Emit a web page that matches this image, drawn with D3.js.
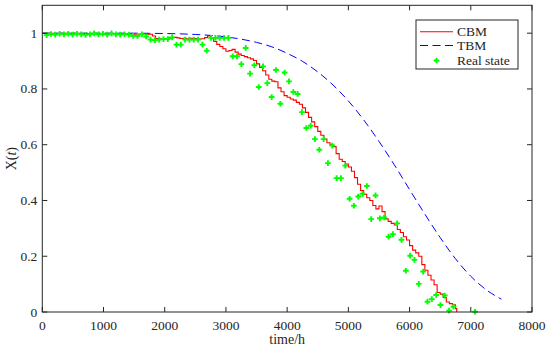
<!DOCTYPE html>
<html>
<head>
<meta charset="utf-8">
<script src="https://cdn.jsdelivr.net/npm/d3@7"></script>
<style>
  body { margin: 0; background: #fff; }
</style>
</head>
<body>
<div class="chart"></div>
<script>
// CBM estimate (red line)
const cbmT = [0, 100, 200, 300, 400, 500, 600, 700, 800, 900, 1000, 1100, 1200, 1300, 1400, 1500, 1600, 1700,
  1800, 1850, 1900, 1950, 2000, 2050, 2100, 2150, 2200, 2250, 2300, 2350, 2400, 2450, 2500, 2550, 2600, 2650,
  2700, 2750, 2800, 2850, 2900, 2950, 3000, 3050, 3100, 3150, 3200, 3250, 3300, 3350, 3400, 3450, 3500, 3550,
  3600, 3650, 3700, 3750, 3800, 3850, 3900, 3950, 4000, 4050, 4100, 4150, 4200, 4250, 4300, 4350, 4400, 4450,
  4500, 4550, 4600, 4650, 4700, 4750, 4800, 4850, 4900, 4950, 5000, 5050, 5100, 5150, 5200, 5250, 5300, 5350,
  5400, 5450, 5500, 5550, 5600, 5650, 5700, 5750, 5800, 5850, 5900, 5950, 6000, 6050, 6100, 6150, 6200, 6250,
  6300, 6350, 6400, 6450, 6500, 6550, 6600, 6650, 6700, 6750, 6770];
const cbmX = [1, 1, 0.999, 1, 0.999, 1, 0.999, 0.999, 0.998, 0.999, 0.998, 0.998, 0.997, 0.998, 0.997, 0.996, 0.997, 0.996,
  0.99, 0.981, 0.98, 0.978, 0.981, 0.983, 0.984, 0.985, 0.983, 0.981, 0.982, 0.98, 0.982, 0.981, 0.98, 0.979, 0.98, 0.984,
  0.99, 0.982, 0.97, 0.96, 0.952, 0.944, 0.935, 0.938, 0.942, 0.932, 0.925, 0.92, 0.916, 0.912, 0.908, 0.902, 0.89, 0.877,
  0.865, 0.85, 0.835, 0.828, 0.826, 0.804, 0.79, 0.776, 0.77, 0.764, 0.76, 0.752, 0.745, 0.732, 0.716, 0.698, 0.682, 0.665,
  0.648, 0.634, 0.62, 0.607, 0.6, 0.593, 0.568, 0.548, 0.54, 0.531, 0.52, 0.505, 0.482, 0.458, 0.436, 0.422, 0.41, 0.4,
  0.382, 0.37, 0.38, 0.36, 0.334, 0.325, 0.318, 0.312, 0.296, 0.285, 0.27, 0.258, 0.238, 0.222, 0.212, 0.2, 0.17, 0.15,
  0.132, 0.115, 0.098, 0.07, 0.064, 0.052, 0.036, 0.03, 0.026, 0.012, 0];

// TBM (blue dashed)
const tbmT = [0, 250, 500, 750, 1000, 1250, 1500, 1750, 2000, 2250, 2500, 2750, 3000, 3250, 3500, 3750, 4000,
  4250, 4500, 4750, 5000, 5250, 5500, 5750, 6000, 6250, 6500, 6750, 7000, 7250, 7500];
const tbmX = [1, 1, 1, 1, 1, 1, 1, 0.9995, 0.9988, 0.9976, 0.9954, 0.992, 0.9866, 0.9785, 0.967, 0.951, 0.928,
  0.899, 0.861, 0.814, 0.757, 0.689, 0.612, 0.528, 0.439, 0.351, 0.267, 0.191, 0.128, 0.08, 0.046];

// Real state (green markers)
const realT = [71, 141, 212, 283, 354, 424, 495, 566, 636, 707, 778, 848, 919, 990, 1061, 1131, 1202, 1273, 1343, 1414,
  1485, 1555, 1626, 1697, 1768, 1838, 1909, 1980, 2050, 2121, 2192, 2262, 2333, 2404, 2475, 2545, 2616, 2687, 2757, 2828,
  2899, 2969, 3040, 3111, 3182, 3252, 3323, 3394, 3464, 3535, 3606, 3676, 3747, 3818, 3889, 3959, 4030, 4101, 4171, 4242,
  4313, 4384, 4454, 4525, 4596, 4666, 4737, 4808, 4878, 4949, 5020, 5090, 5161, 5232, 5303, 5373, 5444, 5515, 5585, 5656,
  5727, 5797, 5868, 5939, 6010, 6080, 6151, 6222, 6292, 6363, 6434, 6504, 6575, 6646, 6717, 7070];
const realX = [0.993, 0.997, 0.995, 0.998, 0.996, 0.998, 0.995, 0.998, 0.996, 0.994, 0.996, 0.999, 0.996, 0.998, 0.995, 0.999, 0.996, 0.995, 0.996, 0.995,
  0.99, 0.99, 0.996, 0.988, 0.977, 0.975, 0.977, 0.979, 0.979, 0.985, 0.959, 0.959, 0.977, 0.977, 0.977, 0.977, 0.959, 0.937, 0.983, 0.983,
  0.983, 0.983, 0.983, 0.917, 0.917, 0.889, 0.947, 0.855, 0.885, 0.807, 0.881, 0.821, 0.771, 0.868, 0.747, 0.859, 0.827, 0.789, 0.782, 0.717,
  0.66, 0.668, 0.62, 0.582, 0.62, 0.534, 0.597, 0.48, 0.48, 0.525, 0.406, 0.381, 0.414, 0.424, 0.452, 0.333, 0.418, 0.336, 0.339, 0.27,
  0.279, 0.318, 0.259, 0.148, 0.202, 0.187, 0.101, 0.145, 0.037, 0.046, 0.061, 0.025, 0.059, 0.005, 0.019, 0.001];

const xTicks = [0, 1000, 2000, 3000, 4000, 5000, 6000, 7000, 8000];
const yTicks = [0, 0.2, 0.4, 0.6, 0.8, 1];
const legendNames = ['CBM', 'TBM', 'Real state'];

const width = 550, height = 350;
const mLeft = 42.3, mRight = 532, mTop = 5.3, mBottom = 312;
const axisColor = '#262626';
const serif = "'Liberation Serif', 'Times New Roman', Times, serif";

const svg = d3.select('.chart').append('svg')
  .attr('width', width)
  .attr('height', height)
  .attr('font-family', serif);

const x = d3.scaleLinear().domain([0, 8000]).range([mLeft, mRight]);
const y = d3.scaleLinear().domain([0, 1.1]).range([mBottom, mTop]);

svg.append('defs').append('clipPath').attr('id', 'plot-clip')
  .append('rect')
  .attr('x', mLeft).attr('y', mTop - 3)
  .attr('width', mRight - mLeft).attr('height', mBottom - mTop + 3);

const plot = svg.append('g').attr('clip-path', 'url(#plot-clip)');

const line = d3.line().x(d => x(d[0])).y(d => y(d[1]));

// CBM
plot.append('path')
  .datum(d3.zip(cbmT, cbmX))
  .attr('d', line.curve(d3.curveStepAfter))
  .attr('fill', 'none')
  .attr('stroke', '#ff0000')
  .attr('stroke-width', 1.1);

// TBM
const smooth = d3.line().x(d => x(d[0])).y(d => y(d[1])).curve(d3.curveMonotoneX);
plot.append('path')
  .datum(d3.zip(tbmT, tbmX))
  .attr('d', smooth)
  .attr('fill', 'none')
  .attr('stroke', '#0000ff')
  .attr('stroke-width', 1)
  .attr('stroke-dasharray', '8,4.5');

// Real state markers
const cross = d3.symbol().type(d3.symbolCross).size(18);
svg.append('g').selectAll('path')
  .data(d3.zip(realT, realX))
  .enter()
  .append('path')
  .attr('d', cross)
  .attr('transform', d => `translate(${x(d[0])},${y(d[1])})`)
  .attr('fill', '#00ff00');

// axes box with inward ticks
const axes = svg.append('g');
axes.append('rect')
  .attr('x', mLeft).attr('y', mTop)
  .attr('width', mRight - mLeft).attr('height', mBottom - mTop)
  .attr('fill', 'none')
  .attr('stroke', axisColor)
  .attr('stroke-width', 1);

const tickLen = 5;
xTicks.forEach(t => {
  axes.append('line')
    .attr('x1', x(t)).attr('x2', x(t))
    .attr('y1', mBottom).attr('y2', mBottom - tickLen)
    .attr('stroke', axisColor);
  axes.append('line')
    .attr('x1', x(t)).attr('x2', x(t))
    .attr('y1', mTop).attr('y2', mTop + tickLen)
    .attr('stroke', axisColor);
  axes.append('text')
    .attr('x', x(t)).attr('y', mBottom + 18)
    .attr('text-anchor', 'middle')
    .attr('font-size', 13.5)
    .attr('fill', axisColor)
    .text(t);
});
yTicks.forEach(t => {
  axes.append('line')
    .attr('x1', mLeft).attr('x2', mLeft + tickLen)
    .attr('y1', y(t)).attr('y2', y(t))
    .attr('stroke', axisColor);
  axes.append('line')
    .attr('x1', mRight).attr('x2', mRight - tickLen)
    .attr('y1', y(t)).attr('y2', y(t))
    .attr('stroke', axisColor);
  axes.append('text')
    .attr('x', mLeft - 5).attr('y', y(t) + 4.5)
    .attr('text-anchor', 'end')
    .attr('font-size', 13.5)
    .attr('fill', axisColor)
    .text(t);
});

// axis labels
svg.append('text')
  .attr('x', (mLeft + mRight) / 2).attr('y', 344)
  .attr('text-anchor', 'middle')
  .attr('font-size', 14)
  .attr('fill', axisColor)
  .text('time/h');

const yLab = svg.append('text')
  .attr('transform', `translate(16,${(mTop + mBottom) / 2}) rotate(-90)`)
  .attr('text-anchor', 'middle')
  .attr('font-size', 14)
  .attr('fill', axisColor);
yLab.append('tspan').text('X(');
yLab.append('tspan').attr('font-style', 'italic').text('t');
yLab.append('tspan').text(')');

// legend
const lg = svg.append('g');
lg.append('rect')
  .attr('x', 416).attr('y', 20)
  .attr('width', 102).attr('height', 49)
  .attr('fill', '#fff')
  .attr('stroke', axisColor)
  .attr('stroke-width', 1);
const rowY = [31.7, 45.5, 60.5];
lg.append('line')
  .attr('x1', 420).attr('x2', 453).attr('y1', rowY[0]).attr('y2', rowY[0])
  .attr('stroke', '#ff0000').attr('stroke-width', 1.1);
lg.append('line')
  .attr('x1', 420).attr('x2', 453).attr('y1', rowY[1]).attr('y2', rowY[1])
  .attr('stroke', '#0000ff').attr('stroke-dasharray', '8,4.5');
lg.append('path')
  .attr('d', cross)
  .attr('transform', `translate(436.5,${rowY[2]})`)
  .attr('fill', '#00ff00');
legendNames.forEach((name, i) => {
  lg.append('text')
    .attr('x', 457).attr('y', rowY[i] + 4.5)
    .attr('font-size', 13.5)
    .attr('fill', axisColor)
    .text(name);
});
</script>
</body>
</html>
